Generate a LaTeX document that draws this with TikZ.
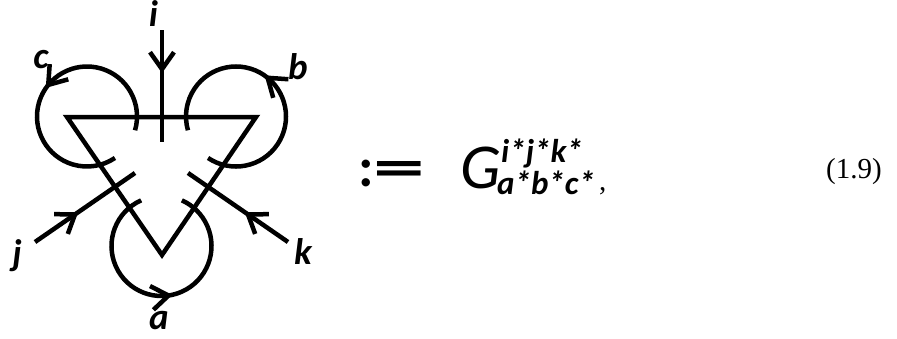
\documentclass[tikz,border=0pt]{standalone}
\usepackage{fontspec}
\setmainfont{Carlito}
\newfontfamily\serifnum{Liberation Serif}
\usetikzlibrary{decorations.markings,calc}
\begin{document}
\begin{tikzpicture}[x=1pt,y=-1pt,
  ln/.style={line width=4.5pt},
  mkarrow/.style={postaction={decorate},decoration={markings,
    mark=at position #1 with {\draw[line width=4.5pt,line join=miter,line cap=butt] (-17pt,12pt) -- (0pt,0pt) -- (-17pt,-12pt);}}},
  lbl/.style={font=\fontsize{37}{37}\selectfont\bfseries\itshape, inner sep=0pt, anchor=base, text depth=0pt},
  eqtext/.style={inner sep=0pt, anchor=base west}]
\fill[white] (0,0) rectangle (897,338);
\useasboundingbox (0,0) rectangle (897,338);
% named points
\coordinate (tl) at (67,117);
\coordinate (tr) at (256,117);
\coordinate (bt) at (162,255);
\coordinate (itop) at (162,30);
\coordinate (ibot) at (162,142);
\coordinate (jout) at (35,242);
\coordinate (jin) at (135,173);
\coordinate (kout) at (288,242);
\coordinate (kin) at (188,173);
\coordinate (ca) at (161.5,246);
\coordinate (cb) at (236,116.5);
\coordinate (cc) at (87,116.5);
% triangle
\draw[ln, line join=miter] (tl) -- (tr) -- (bt) -- cycle;
% legs
\draw[ln, mkarrow=0.35] (itop) -- (ibot);
\draw[ln, mkarrow=0.4] (jout) -- (jin);
\draw[ln, mkarrow=0.4] (kout) -- (kin);
% loops
\draw[ln, mkarrow=0.526] ($(ca)+(246:50)$) arc[start angle=246, end angle=-66, radius=50];
\draw[ln, mkarrow=0.49] ($(cc)+(16:50)$) arc[start angle=16, end angle=-304, radius=50];
\draw[ln, mkarrow=0.546] ($(cb)+(124:50)$) arc[start angle=124, end angle=-196, radius=50];
% labels
\node[lbl] (li) at (153.5,26) {i};
\node[lbl] (lc) at (41,68) {c};
\node[lbl] (lb) at (298,79) {b};
\node[lbl] (lj) at (17,265) {j};
\node[lbl] (lk) at (303,264) {k};
\node[lbl] (la) at (159,329) {a};
% formula
\node[eqtext, font=\fontsize{56}{56}\selectfont\bfseries] (def) at (358,186) {:\scalebox{1.85}[1]{=}};
\node[eqtext, font=\fontsize{64}{64}\selectfont\itshape] (G) at (460,188) {G};
\node[eqtext, font=\fontsize{33}{33}\selectfont\bfseries\itshape, text depth=0pt] (sup) at (501,162) {i*j*k*};
\node[eqtext, font=\fontsize{33}{33}\selectfont\bfseries\itshape] (sub) at (497,194) {a*b*c*};
\node[eqtext, font=\serifnum\fontsize{29}{29}\selectfont] (comma) at (599,190) {,};
\node[eqtext, font=\serifnum\fontsize{29}{29}\selectfont] (eqno) at (826,178) {(1.9)};
\end{tikzpicture}
\end{document}
